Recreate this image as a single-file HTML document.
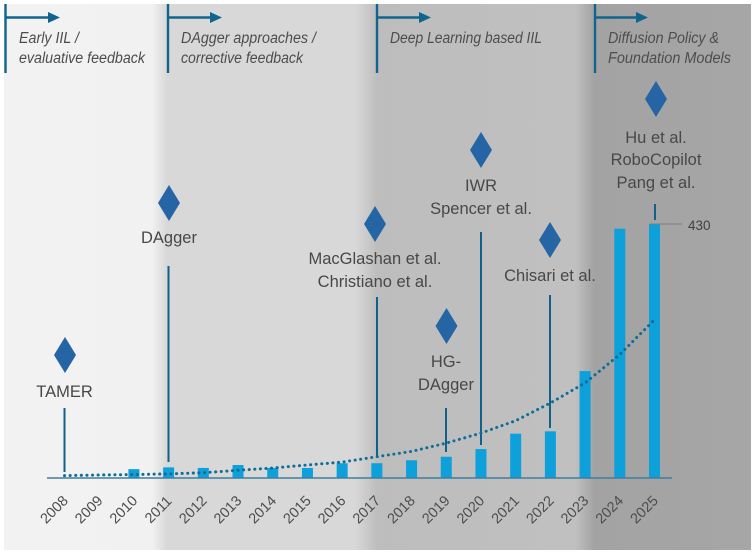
<!DOCTYPE html>
<html lang="en">
<head>
<meta charset="utf-8">
<title>Interactive imitation learning timeline</title>
<style>
html,body{margin:0;padding:0;background:#fff;width:754px;height:554px;overflow:hidden}
svg{display:block;font-family:"Liberation Sans",sans-serif}
.era{font-style:italic;font-size:15.5px;fill:#4d4d4d}
.evt{font-size:16.5px;fill:#484848;text-anchor:middle}
.yr{font-size:14.5px;fill:#4d4d4d;text-anchor:middle}
</style>
</head>
<body>
<svg id="chart" width="754" height="554" viewBox="0 0 754 554" xmlns="http://www.w3.org/2000/svg">
<defs>
<linearGradient id="bgGrad" x1="4" x2="751" y1="0" y2="0" gradientUnits="userSpaceOnUse">
<stop offset="0" stop-color="#f2f2f2"/>
<stop offset="0.198" stop-color="#f1f1f1"/>
<stop offset="0.218" stop-color="#d8d8d8"/>
<stop offset="0.47" stop-color="#d8d8d8"/>
<stop offset="0.5" stop-color="#bdbdbd"/>
<stop offset="0.765" stop-color="#c0c0c0"/>
<stop offset="0.79" stop-color="#a3a3a3"/>
<stop offset="1" stop-color="#a6a6a6"/>
</linearGradient>
</defs>
<rect x="4" y="4" width="747" height="546" fill="url(#bgGrad)"/>

<g stroke="#11658c" stroke-width="2.4" fill="#11658c">
<line x1="5.5" y1="4" x2="5.5" y2="73"/><line x1="5.5" y1="17.5" x2="50" y2="17.5"/>
<polygon points="48,12 60,17.5 48,23" stroke="none"/>
</g>
<text class="era" x="19" y="43" textLength="60" lengthAdjust="spacingAndGlyphs">Early IIL /</text>
<text class="era" x="19" y="63" textLength="126" lengthAdjust="spacingAndGlyphs">evaluative feedback</text>

<g stroke="#11658c" stroke-width="2.4" fill="#11658c">
<line x1="168" y1="4" x2="168" y2="73"/><line x1="168" y1="17.5" x2="212" y2="17.5"/>
<polygon points="210,12 222,17.5 210,23" stroke="none"/>
</g>
<text class="era" x="181" y="43" textLength="135" lengthAdjust="spacingAndGlyphs">DAgger approaches /</text>
<text class="era" x="181" y="63" textLength="122" lengthAdjust="spacingAndGlyphs">corrective feedback</text>

<g stroke="#11658c" stroke-width="2.4" fill="#11658c">
<line x1="377" y1="4" x2="377" y2="73"/><line x1="377" y1="17.5" x2="420" y2="17.5"/>
<polygon points="419,12 431,17.5 419,23" stroke="none"/>
</g>
<text class="era" x="390" y="43" textLength="152" lengthAdjust="spacingAndGlyphs">Deep Learning based IIL</text>

<g stroke="#11658c" stroke-width="2.4" fill="#11658c">
<line x1="595" y1="4" x2="595" y2="73"/><line x1="595" y1="17.5" x2="637" y2="17.5"/>
<polygon points="636,12 648,17.5 636,23" stroke="none"/>
</g>
<text class="era" x="608" y="43" textLength="111" lengthAdjust="spacingAndGlyphs">Diffusion Policy &amp;</text>
<text class="era" x="608" y="63" textLength="123" lengthAdjust="spacingAndGlyphs">Foundation Models</text>

<g id="bars"></g>
<line id="axis" x1="47" x2="672" y1="478" y2="478" stroke="#3f7f9f" stroke-width="1.6"/>
<g id="years"></g>

<g stroke="#11608a" stroke-width="2">
<line x1="64.5" y1="408" x2="64.5" y2="472"/>
<line x1="168.5" y1="266" x2="168.5" y2="462"/>
<line x1="377" y1="297" x2="377" y2="457"/>
<line x1="446" y1="408" x2="446" y2="452"/>
<line x1="481" y1="232" x2="481" y2="445"/>
<line x1="550" y1="295" x2="550" y2="428"/>
<line x1="655" y1="204" x2="655" y2="220"/>
</g>

<g fill="#2565a5">
<polygon points="65,337 76,355 65,373 54,355"/>
<polygon points="169,185 180,203 169,221 158,203"/>
<polygon points="375,206 386,224 375,242 364,224"/>
<polygon points="446.5,308 457.5,326 446.5,344 435.5,326"/>
<polygon points="481,132 492,150 481,168 470,150"/>
<polygon points="550,222 561,240 550,258 539,240"/>
<polygon points="656,81 667,99 656,117 645,99"/>
</g>

<text class="evt" x="64.5" y="397">TAMER</text>
<text class="evt" x="169" y="243">DAgger</text>
<text class="evt" x="375" y="264">MacGlashan et al.</text>
<text class="evt" x="375" y="287">Christiano et al.</text>
<text class="evt" x="446" y="367">HG-</text>
<text class="evt" x="446" y="390">DAgger</text>
<text class="evt" x="481" y="191">IWR</text>
<text class="evt" x="481" y="214">Spencer et al.</text>
<text class="evt" x="550" y="281">Chisari et al.</text>
<text class="evt" x="656" y="143">Hu et al.</text>
<text class="evt" x="656" y="165">RoboCopilot</text>
<text class="evt" x="656" y="188">Pang et al.</text>

<g id="leader"></g>
<path id="trend" fill="none" stroke="#0f6d96" stroke-width="3" stroke-linecap="round" stroke-dasharray="0.1 5.5"/>
</svg>
<script>
const years = [2008,2009,2010,2011,2012,2013,2014,2015,2016,2017,2018,2019,2020,2021,2022,2023,2024,2025];
const publications = [0,0,15,18,17,22,17,17,25,25,30,36,49,75,79,181,422,430];
const trend = [4,5,6,7,9,13,17,22,27,36,45,59,76,97,127,161,209,268];

const NS = 'http://www.w3.org/2000/svg';
function xScale(i){ return 64.5 + i * (654.5 - 64.5) / (years.length - 1); }
function yScale(v){ return 478 - v * 254 / 430; }

const barsGroup = document.getElementById('bars');
const yearsGroup = document.getElementById('years');
years.forEach(function(year, i){
  const value = publications[i];
  if (value > 0) {
    const bar = document.createElementNS(NS, 'rect');
    
    
    bar.setAttribute('x', xScale(i) - 5.5);
    bar.setAttribute('width', 11);
    bar.setAttribute('y', yScale(value));
    bar.setAttribute('height', 478 - yScale(value));
    bar.setAttribute('fill', '#0ea0da');
    barsGroup.appendChild(bar);
  }
  const label = document.createElementNS(NS, 'text');
  
  
  label.setAttribute('class', 'yr');
  const lx = xScale(i) - 7;
  label.setAttribute('transform', 'translate(' + lx + ' 513) rotate(-45)');
  label.textContent = year;
  yearsGroup.appendChild(label);
});

document.getElementById('trend').setAttribute('d', trend.map(function(v, i){
  return (i ? 'L' : 'M') + xScale(i).toFixed(1) + ' ' + yScale(v).toFixed(1);
}).join(' '));

const leader = document.getElementById('leader');
const last = publications.length - 1;
const leaderLine = document.createElementNS(NS, 'line');


leaderLine.setAttribute('x1', xScale(last) - 5);
leaderLine.setAttribute('x2', 682);
leaderLine.setAttribute('y1', yScale(publications[last]));
leaderLine.setAttribute('y2', yScale(publications[last]));
leaderLine.setAttribute('stroke', '#808080');
leaderLine.setAttribute('stroke-width', '1');
leader.appendChild(leaderLine);
const peak = document.createElementNS(NS, 'text');


peak.setAttribute('x', 688);
peak.setAttribute('y', yScale(publications[last]) + 6);
peak.setAttribute('font-size', '13.5');
peak.setAttribute('fill', '#404040');
peak.textContent = publications[last];
leader.appendChild(peak);
</script>
</body>
</html>
